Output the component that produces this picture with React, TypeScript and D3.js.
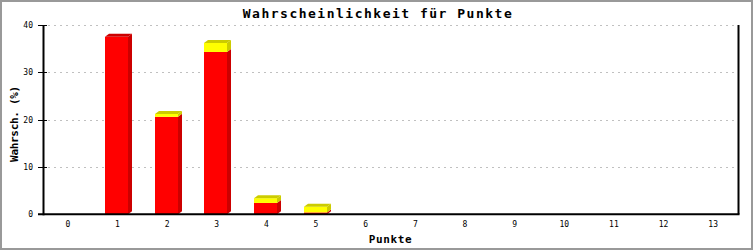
import React from "react";
import * as d3 from "d3";

const categories = ["0","1","2","3","4","5","6","7","8","9","10","11","12","13"];
const redValues = [0, 37.5, 20.6, 34.3, 2.4, 0.4, 0, 0, 0, 0, 0, 0, 0, 0];
const yellowValues = [0, 0, 0.6, 1.9, 1.0, 1.2, 0, 0, 0, 0, 0, 0, 0, 0];
const yTicks = [0, 10, 20, 30, 40];

const W = 753, H = 250;
const left = 43, right = 738, top = 25, bottom = 214.3;
const font = "'DejaVu Sans Mono', 'Liberation Mono', monospace";

export default function App() {
  const x = d3.scaleBand<string>().domain(categories).range([left, right]);
  const y = d3.scaleLinear().domain([0, 40]).range([bottom, top]);
  const bw = 23, dx = 4, dy = 3;

  const bars: React.ReactNode[] = [];
  categories.forEach((c, i) => {
    const cx = (x(c) as number) + x.bandwidth() / 2;
    const x0 = Math.round(cx - 12.3), x1 = x0 + bw;
    const segs = [
      { v0: 0, v1: redValues[i], front: "#ff0000", dark: "#cc0000" },
      { v0: redValues[i], v1: redValues[i] + yellowValues[i], front: "#ffff00", dark: "#cccc00" },
    ].filter((s) => s.v1 > s.v0);
    segs.forEach((s, j) => {
      const yb = y(s.v0), yt = y(s.v1);
      bars.push(
        <g key={`${i}-${j}`}>
          <rect x={x0} y={yt} width={bw} height={yb - yt} fill={s.front} />
          <polygon
            points={`${x1},${yb} ${x1 + dx},${yb - dy} ${x1 + dx},${yt - dy} ${x1},${yt}`}
            fill={s.dark}
          />
          {j === segs.length - 1 && (
            <polygon
              points={`${x0},${yt} ${x0 + dx},${yt - dy} ${x1 + dx},${yt - dy} ${x1},${yt}`}
              fill={s.dark}
            />
          )}
        </g>
      );
    });
  });

  return (
    <svg width={W} height={H} style={{ position: "absolute", left: 0, top: 0 }}>
      <rect x={0} y={0} width={W} height={H} fill="#ffffff" />
      <rect x={1} y={1} width={W - 2} height={H - 2} fill="none" stroke="#999999" strokeWidth={2} />
      <text x={378} y={18} textAnchor="middle" fontFamily={font} fontWeight="bold" fontSize={13} letterSpacing={1.5}>
        Wahrscheinlichkeit für Punkte
      </text>
      {yTicks.filter((t) => t > 0).map((t) => (
        <line key={t} x1={48} x2={right} y1={Math.round(y(t)) + 0.5} y2={Math.round(y(t)) + 0.5}
          stroke="#c0c0c0" strokeDasharray="2,4" />
      ))}
      {bars}
      <line x1={right + 0.5} x2={right + 0.5} y1={top} y2={bottom} stroke="#000" strokeWidth={2} />
      <line x1={38} x2={right + 1.5} y1={bottom} y2={bottom} stroke="#000" strokeWidth={2} />
      <line x1={left + 0.5} x2={left + 0.5} y1={top} y2={bottom + 1} stroke="#000" strokeWidth={2} />
      {yTicks.map((t) => (
        <g key={t}>
          <line x1={38} x2={47} y1={Math.round(y(t)) + 0.5} y2={Math.round(y(t)) + 0.5} stroke="#000" />
          <text x={33} y={y(t) + 3} textAnchor="end" fontFamily={font} fontSize={8}>{t}</text>
        </g>
      ))}
      {categories.map((c) => (
        <text key={c} x={(x(c) as number) + x.bandwidth() / 2} y={226.5} textAnchor="middle" fontFamily={font} fontSize={8}>
          {c}
        </text>
      ))}
      <text x={(left + right) / 2} y={242.5} textAnchor="middle" fontFamily={font} fontWeight="bold" fontSize={11} letterSpacing={0.6}>
        Punkte
      </text>
      <text transform={`translate(17.5,124) rotate(-90)`} textAnchor="middle" fontFamily={font} fontWeight="bold" fontSize={11} letterSpacing={-0.3}>
        Wahrsch. (%)
      </text>
    </svg>
  );
}
